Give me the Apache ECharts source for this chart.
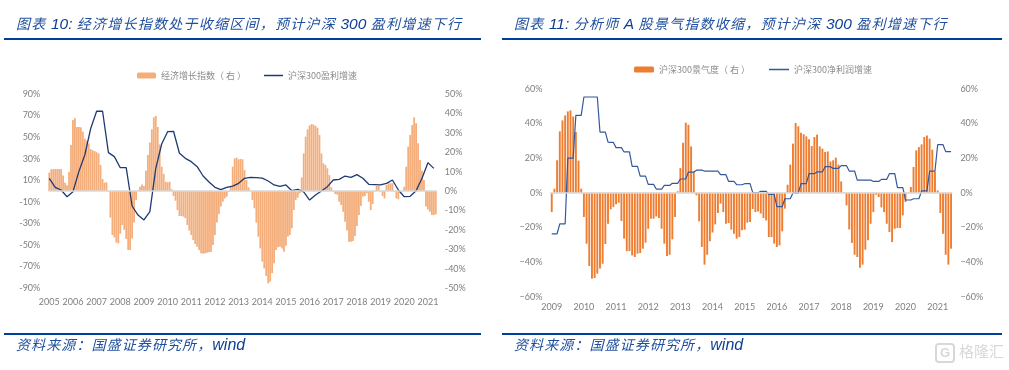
<!DOCTYPE html>
<html>
<head>
<meta charset="utf-8">
<script src="https://cdn.jsdelivr.net/npm/echarts@6/dist/echarts.min.js"></script>
<style>
html, body { margin: 0; padding: 0; background: #fff; }
#wrap { position: relative; width: 1009px; height: 370px; overflow: hidden; }
#chart { position: absolute; left: 0; top: 0; width: 1009px; height: 370px; }
.rule { position: absolute; height: 2px; background: #003f98; }
.head, .foot {
	position: absolute; white-space: nowrap; font-style: italic; color: #1f4f9e;
	font-family: "Noto Sans CJK SC", sans-serif;
	font-size: 14px; letter-spacing: 1.1px; line-height: 20px;
}
.head { letter-spacing: 1.25px; }
.head span, .foot span { font-family: "Liberation Sans", sans-serif; letter-spacing: 0; color: #0f3f94; }
.head span { font-size: 15.5px; }
.foot span { font-size: 16px; }
#mark { position: absolute; left: 935px; top: 341px; color: #d8d8d8; font: 15px "Noto Sans CJK SC", sans-serif; line-height: 20px; white-space: nowrap; }
#mark b { display: inline-block; width: 16px; height: 16px; line-height: 16px; margin-right: 4px; border: 2px solid #d8d8d8; border-radius: 4px; text-align: center; font: bold 13px "Liberation Sans", sans-serif; }
</style>
</head>
<body>
<div id="wrap">
	<div id="chart"></div>
	<div class="head" style="left:16px;top:13px">图表 <span>10:</span> 经济增长指数处于收缩区间&#xFF0C;预计沪深 <span>300</span> 盈利增速下行</div>
	<div class="head" style="left:514px;top:13px">图表 <span>11:</span> 分析师 <span>A</span> 股景气指数收缩&#xFF0C;预计沪深 <span>300</span> 盈利增速下行</div>
	<div class="rule" style="left:4px;top:38px;width:477px"></div>
	<div class="rule" style="left:502px;top:38px;width:500px"></div>
	<div class="rule" style="left:4px;top:333px;width:477px"></div>
	<div class="rule" style="left:502px;top:333px;width:500px"></div>
	<div class="foot" style="left:16px;top:334px">资料来源&#xFF1A;国盛证券研究所&#xFF0C;<span>wind</span></div>
	<div class="foot" style="left:514px;top:334px">资料来源&#xFF1A;国盛证券研究所&#xFF0C;<span>wind</span></div>
	<div id="mark"><b>G</b>格隆汇</div>
</div>
<script>
const leftYears = ['2005','2006','2007','2008','2009','2010','2011','2012','2013','2014','2015','2016','2017','2018','2019','2020','2021']
const rightYears = ['2009','2010','2011','2012','2013','2014','2015','2016','2017','2018','2019','2020','2021']

// 经济增长指数(右),月度
const growthIndex = [
	9.5,11.2,11.3,11.3,11.3,11.3,11.3,8,4.3,3,9.8,23.7,36.6,37.5,33,33,32.8,30.6,27,26,24.5,21.6,21,20.6,20,19.4,13.4,6.2,4.3,4.5,
	-0.3,-13.7,-22.7,-23.9,-26.6,-27,-22,-17.5,-20,-24.7,-30.4,-30.4,-24.4,-16.3,-4.6,0.2,2.2,3.4,2.6,10.5,18.6,25,31.8,38,38.7,33,24,12.5,8.8,4.8,
	4.5,4.8,0.9,-2.6,-5,-9.8,-12.9,-12.9,-13.2,-14,-17.5,-20.4,-22.7,-25.3,-27.3,-28.7,-30.4,-32.1,-32.3,-32.1,-31.8,-31.6,-31.4,-27.8,-22.7,-16.3,-11.9,-8,-5.5,-3.8,
	-2.9,-0.5,2.6,12.5,16.8,17.2,16.3,16.5,16.3,10.8,5.7,1.9,0.2,-4.6,-8.9,-16.3,-23.5,-29.6,-36.4,-39.9,-43.8,-47.6,-46.7,-42.4,-37.3,-30.4,-29,-28.7,-29.6,-31.3,
	-28.2,-23.5,-22.7,-19.2,-9.8,-4.6,-3.4,-1.2,7,19.4,28,31.8,33.8,34.5,34.2,33.5,32.6,28.9,19.4,14.3,13.4,11.7,8.2,1.9,-0.3,-1.5,-1.9,-5.5,-7.2,-10.7,
	-15.8,-20.4,-26.1,-26.1,-25.8,-23.2,-18,-12.4,-7.7,-2.9,-2.6,-1.2,-5.5,-9.8,-6.7,-0.3,2.6,2.6,-0.3,-2.6,-3.8,3.1,4,4,4,-0.3,-3.8,-4.3,-0.2,0.2,
	2.2,12.5,22.9,28.9,34,38,34.9,24.6,16,10.5,5.7,-8,-9.5,-10.7,-12.4,-12.4,-12
]
// 沪深300盈利增速,季度
const profitGrowth = [
	11.8,3.4,0.9,-5.3,-0.6,18,33.4,58,74,74.2,35.6,31.9,21.6,21.6,-13.9,-22.3,-26.9,-19.2,21,43.6,55,55.4,35,30.3,27.2,22.6,13.9,8.4,3.4,1.2,3.4,4.6,7.1,
	11.8,12.7,12.4,12,9.3,5.6,4.3,5.6,0.3,1.5,-0.9,-8.4,-3.7,0,4,10.2,10.8,13.9,12.7,15.2,11.8,6.2,5.9,5.6,7.1,10.2,0.9,-5.3,-4.9,0.3,11.8,26.3,21
]
// 沪深300景气度(右),月度
const sentiment = [
	-11.2,2.3,18.7,35.4,41.7,44.6,46.9,47.5,44,35,18.5,2.3,-14,-29.4,-42.3,-49.6,-49.2,-46.7,-43.8,-41,-29.6,-17.9,-9.6,-8.3,-6.7,-5.8,-16.3,-26.5,-33.7,-33.7,
	-36.2,-37.1,-35.2,-34.8,-32.3,-28.8,-20.8,-15,-15,-13.7,-14.6,-20.8,-29.4,-36.5,-35.8,-26.9,-14,0.8,14.2,28.8,40.4,39.2,26.7,12,-1.5,-16.5,-31.3,-41.5,-35.8,-28,
	-23,-18.3,-11.7,-6.3,-11.2,-17.9,-17.5,-21.3,-23.7,-26.5,-25.6,-21.7,-21.3,-17.3,-16.9,-9.4,-11.2,-10.8,-12,-14.6,-16,-25.6,-25.6,-29.4,-31.3,-30.4,-22.3,-9.2,4.6,16.2,
	28.3,40.2,38.3,34.6,33.7,32.5,30.8,26.9,32.1,33.5,26.7,25.4,23.5,23.8,18,18.7,20.2,16.2,6.5,0.2,-7.3,-21.2,-29,-35.8,-37.1,-43.3,-41.5,-32.9,-27.5,-17.9,
	-11.2,-1.2,-2.5,-8.5,-11.2,-17.9,-22.7,-28.5,-20.8,-20.4,-20.4,-13.1,-5.4,0.2,3.3,14.8,24.4,26.3,27.9,32.1,33,31.2,24.8,12.3,1.3,-11.7,-23.7,-35.8,-41.5,-32.3
]
// 沪深300净利润增速,月度
const netProfit = [
	-23.7,-23.7,-23.7,-18,-18,-18,20,20,20,44.6,44.6,44.6,55.2,55.2,55.2,55.2,55.2,55.2,35,35,35,29.2,29,29,26,26,26,23.5,23.5,23.5,
	15.2,15.2,15.2,9.6,9.6,9.6,4.8,4.8,4.8,2.1,2.1,2.1,4.2,4.2,4.2,5.4,5.4,5.4,7.9,7.9,7.9,11.9,11.9,11.9,13,13,13,12.5,12.5,12.5,
	12.5,12.5,12.5,10.4,10.4,10.4,6.5,6.5,6.5,4.6,4.6,4.6,5.2,5.2,5.2,0,0,0,0.8,0.8,0.8,-1,-1,-1,-8,-8,-8,-3.5,-3.5,-3.5,
	-0.2,-0.2,-0.2,5.2,5.2,5.2,11,11,11,12,12,12,15,15,15,14,14,14,15.6,15.6,15.6,12.5,12.5,12.5,7.3,7.3,7.3,7.3,7.3,7.3,
	6.5,6.5,6.5,7.7,7.7,7.7,11,11,11,2.9,2.9,2.9,-4.2,-4.2,-4.2,-3.5,-3.5,-3.5,1,1,1,12.5,12.5,12.5,27.7,27.7,27.7,23.7,23.7,23.7
]

const growthName = '经济增长指数\uFF08 右 \uFF09'
const profitName = '沪深300盈利增速'
const sentimentName = '沪深300景气度\uFF08 右 \uFF09'
const netProfitName = '沪深300净利润增速'

// x轴只标每年一月
const monthLabels = (years, n) => Array.from({ length: n }, (_, i) => i % 12 === 0 ? years[i / 12] : '')

const labelStyle = { color: '#7f7f7f', fontSize: 9, fontFamily: 'Lato' }
const legendText = { color: '#8c8c8c', fontSize: 9, fontFamily: 'Noto Sans CJK SC' }
// 图例里的线:中间一条细横线,四角的小点只用来撑满图标框
const lineIcon = 'path://M0 0h.1v.1h-.1zM0 39h100v22H0zM100 100h-.1v-.1h.1z'
const zeroLine = {
	silent: true,
	symbol: 'none',
	label: { show: false },
	lineStyle: { color: '#d9d9d9', width: 1.5, type: 'solid' },
	data: [{ yAxis: 0 }]
}

const xAxisOf = (gridIndex, years, n, margin) => ({
	type: 'category',
	gridIndex,
	data: monthLabels(years, n),
	axisLine: { show: false },
	axisTick: { show: false },
	splitLine: { show: false },
	axisLabel: { ...labelStyle, interval: 11, margin, hideOverlap: false }
})

// 刻度从 min 数,所以 interval 取 10,奇数十位的标签才显示
const yAxisOf = (gridIndex, position, limit, interval, keep, minus) => ({
	type: 'value',
	gridIndex,
	position,
	min: -limit,
	max: limit,
	interval,
	axisLine: { show: false },
	axisTick: { show: false },
	splitLine: { show: false },
	axisLabel: {
		...labelStyle,
		margin: 8,
		formatter: (v) => keep(v) ? String(v).replace('-', minus) + '%' : ''
	}
})

const oddTens = (v) => Math.abs(v) % 20 === 10
const all = () => true

const option = {
	animation: false,
	grid: [
		{ left: 48.3, top: 94, width: 388.5, height: 194 },
		{ left: 550.4, top: 88.7, width: 402, height: 208 }
	],
	legend: [
		{
			left: 132, top: 66, itemWidth: 19, itemHeight: 6, itemGap: 18, symbolKeepAspect: false, textStyle: legendText,
			data: [growthName, { name: profitName, icon: lineIcon }]
		},
		{
			left: 629, top: 60, itemWidth: 20, itemHeight: 6, itemGap: 19, symbolKeepAspect: false, textStyle: legendText,
			data: [sentimentName, { name: netProfitName, icon: lineIcon }]
		}
	],
	xAxis: [
		xAxisOf(0, leftYears, growthIndex.length, 9.5),
		xAxisOf(1, rightYears, sentiment.length, 5.5)
	],
	yAxis: [
		yAxisOf(0, 'left', 90, 10, oddTens, '-'),
		yAxisOf(0, 'right', 50, 10, all, '-'),
		yAxisOf(1, 'left', 60, 20, all, '−'),
		yAxisOf(1, 'right', 60, 20, all, '−')
	],
	series: [
		{
			name: growthName,
			type: 'bar',
			xAxisIndex: 0,
			yAxisIndex: 1,
			barWidth: 1.8,
			itemStyle: { color: '#f4ae7c' },
			markLine: zeroLine,
			data: growthIndex
		},
		{
			name: profitName,
			type: 'line',
			xAxisIndex: 0,
			yAxisIndex: 0,
			symbol: 'none',
			lineStyle: { color: '#1f3a73', width: 1.3 },
			itemStyle: { color: '#1f3a73' },
			data: profitGrowth.map((v, i) => [i * 3, v])
		},
		{
			name: sentimentName,
			type: 'bar',
			xAxisIndex: 1,
			yAxisIndex: 3,
			barWidth: 1.9,
			itemStyle: { color: '#ed7d31' },
			markLine: zeroLine,
			data: sentiment
		},
		{
			name: netProfitName,
			type: 'line',
			xAxisIndex: 1,
			yAxisIndex: 2,
			symbol: 'none',
			lineStyle: { color: '#35589c', width: 1.2 },
			itemStyle: { color: '#35589c' },
			data: netProfit
		}
	]
}

const myChart = echarts.init(document.getElementById('chart'), null, { renderer: 'canvas' })
myChart.setOption(option)
</script>
</body>
</html>
